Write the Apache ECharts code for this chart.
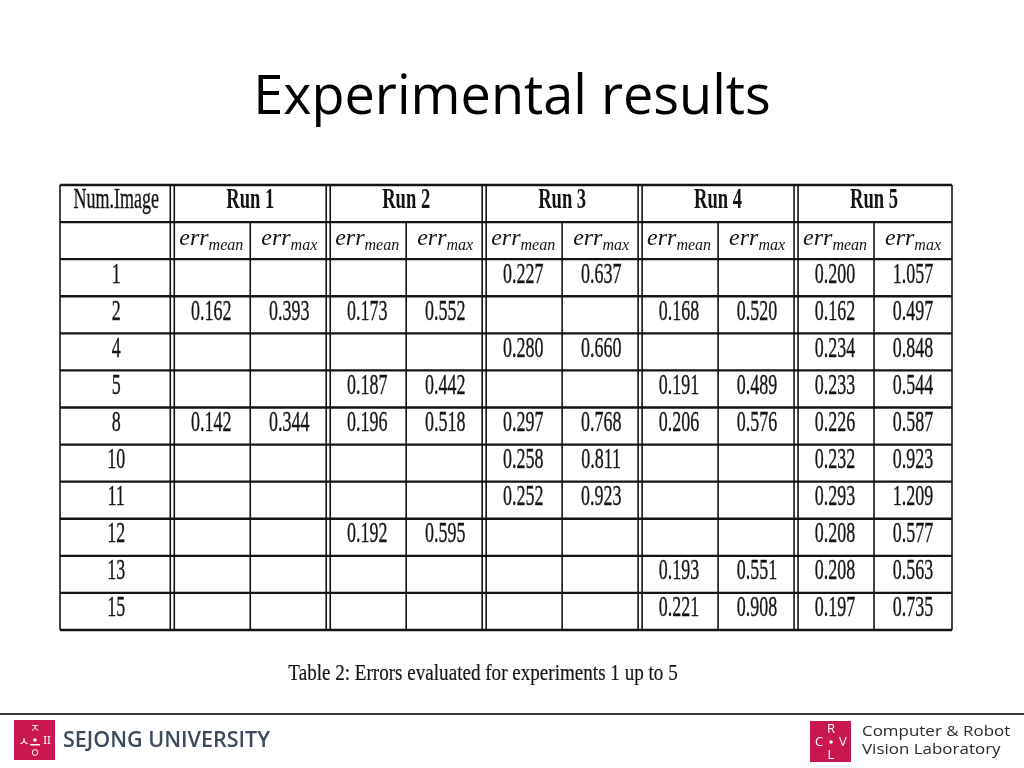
<!DOCTYPE html>
<html><head><meta charset="utf-8">
<script src="https://cdn.jsdelivr.net/npm/echarts@6/dist/echarts.min.js"></script>
<style>html,body{margin:0;padding:0;background:#fff}#c{width:1024px;height:768px}</style>
</head><body><div id="c"></div>
<script>
// ---- data ----
const titleText = 'Experimental results';
const captionText = 'Table 2: Errors evaluated for experiments 1 up to 5';
const firstHeader = 'Num.Image';
const runs = ['Run 1', 'Run 2', 'Run 3', 'Run 4', 'Run 5'];
const subHeaders = ['mean', 'max'];
const numImages = ['1', '2', '4', '5', '8', '10', '11', '12', '13', '15'];
const run1Mean = [null, 0.162, null, null, 0.142, null, null, null, null, null];
const run1Max  = [null, 0.393, null, null, 0.344, null, null, null, null, null];
const run2Mean = [null, 0.173, null, 0.187, 0.196, null, null, 0.192, null, null];
const run2Max  = [null, 0.552, null, 0.442, 0.518, null, null, 0.595, null, null];
const run3Mean = [0.227, null, 0.280, null, 0.297, 0.258, 0.252, null, null, null];
const run3Max  = [0.637, null, 0.660, null, 0.768, 0.811, 0.923, null, null, null];
const run4Mean = [null, 0.168, null, 0.191, 0.206, null, null, null, 0.193, 0.221];
const run4Max  = [null, 0.520, null, 0.489, 0.576, null, null, null, 0.551, 0.908];
const run5Mean = [0.200, 0.162, 0.234, 0.233, 0.226, 0.232, 0.293, 0.208, 0.208, 0.197];
const run5Max  = [1.057, 0.497, 0.848, 0.544, 0.587, 0.923, 1.209, 0.577, 0.563, 0.735];
const runValues = [[run1Mean, run1Max], [run2Mean, run2Max], [run3Mean, run3Max], [run4Mean, run4Max], [run5Mean, run5Max]];

// ---- layout (table units) ----
const NUMW = 1.44;               // width of first column in sub-column units
const NCOLS = runs.length * 2;
const XMAX = NUMW + NCOLS;
const HEAD = 2;
const NROWS = HEAD + numImages.length;
const SERIF = '"Liberation Serif", "DejaVu Serif", serif';
const INK = '#141414';

// cells
const cells = [];
cells.push({x: NUMW / 2, y: 0.5, text: firstHeader, kind: 'head'});
runs.forEach((r, i) => cells.push({x: NUMW + i * 2 + 1, y: 0.5, text: r, kind: 'run'}));
runs.forEach((r, i) => subHeaders.forEach((s, j) =>
  cells.push({x: NUMW + i * 2 + j + 0.5, y: 1.5, text: '{e|err}{s|' + s + '}', kind: 'sub'})));
numImages.forEach((n, r) => {
  cells.push({x: NUMW / 2, y: HEAD + r + 0.5, text: n, kind: 'num'});
  runValues.forEach((pair, i) => pair.forEach((arr, j) => {
    if (arr[r] != null) cells.push({x: NUMW + i * 2 + j + 0.5, y: HEAD + r + 0.5, text: arr[r].toFixed(3), kind: 'num'});
  }));
});

// grid lines: [x1,y1,x2,y2,double]
const rules = [];
for (let r = 0; r <= NROWS; r++) rules.push([0, r, XMAX, r, 0]);
rules.push([0, 0, 0, NROWS, 0]);
rules.push([XMAX, 0, XMAX, NROWS, 0]);
rules.push([NUMW, 0, NUMW, NROWS, 1]);
for (let i = 1; i < runs.length; i++) rules.push([NUMW + i * 2, 0, NUMW + i * 2, NROWS, 1]);
for (let i = 0; i < runs.length; i++) rules.push([NUMW + i * 2 + 1, 1, NUMW + i * 2 + 1, NROWS, 0]);

const chart = echarts.init(document.getElementById('c'));

function styleFor(c) {
  if (c.kind === 'sub') {
    return {sx: 1, dy: -2, st: {text: c.text, align: 'center', verticalAlign: 'middle', fill: INK,
      rich: {
        e: {fontFamily: SERIF, fontStyle: 'italic', fontSize: 24, fill: INK, verticalAlign: 'middle', lineHeight: 30},
        s: {fontFamily: SERIF, fontStyle: 'italic', fontSize: 16, fill: INK, verticalAlign: 'bottom', lineHeight: 30, padding: [8, 0, 0, 0]}
      }}};
  }
  const bold = c.kind === 'run';
  return {sx: bold ? 0.64 : 0.6, dy: -3, st: {text: c.text, align: 'center', verticalAlign: 'middle', fill: INK,
    stroke: INK, lineWidth: bold ? 0 : 0.35,
    fontFamily: SERIF, fontSize: bold ? 29 : 30, fontWeight: bold ? 'bold' : 'normal'}};
}

const option = {
  animation: false,
  title: {text: titleText, left: 'center', top: 67,
    textStyle: {fontFamily: '"Open Sans", "Noto Sans", sans-serif', fontSize: 54, fontWeight: 'normal', color: '#000'}},
  grid: {left: 60, right: 72, top: 185, bottom: 138},
  xAxis: {type: 'value', min: 0, max: XMAX, show: false},
  yAxis: {type: 'value', min: 0, max: NROWS, inverse: true, show: false},
  series: [
    {
      type: 'custom', silent: true, clip: false,
      data: rules,
      encode: {x: [0, 2], y: [1, 3]},
      renderItem: function (params, api) {
        const p1 = api.coord([api.value(0), api.value(1)]);
        const p2 = api.coord([api.value(2), api.value(3)]);
        const dbl = api.value(4) === 1;
        const horiz = api.value(1) === api.value(3);
        const st = {stroke: INK, lineWidth: horiz ? 2.3 : 1.6};
        if (!dbl) return {type: 'line', shape: {x1: p1[0], y1: p1[1], x2: p2[0], y2: p2[1]}, style: st};
        return {type: 'group', children: [
          {type: 'line', shape: {x1: p1[0] - 2, y1: p1[1], x2: p2[0] - 2, y2: p2[1]}, style: st},
          {type: 'line', shape: {x1: p1[0] + 2, y1: p1[1], x2: p2[0] + 2, y2: p2[1]}, style: st}
        ]};
      }
    },
    {
      type: 'custom', silent: true, clip: false,
      data: cells.map(c => [c.x, c.y]),
      encode: {x: 0, y: 1},
      renderItem: function (params, api) {
        const c = cells[params.dataIndex];
        const p = api.coord([api.value(0), api.value(1)]);
        const s = styleFor(c);
        return {type: 'text', x: p[0], y: p[1] + s.dy, scaleX: s.sx, style: s.st};
      }
    }
  ],
  graphic: [
    {type: 'text', x: 483, y: 674, scaleX: 0.83,
      style: {text: captionText, fontFamily: SERIF, fontSize: 23, fill: INK, stroke: INK, lineWidth: 0.2, align: 'center', verticalAlign: 'middle'}},
    {type: 'line', shape: {x1: 0, y1: 714, x2: 1024, y2: 714}, style: {stroke: '#3a3a3a', lineWidth: 2}},
    // Sejong logo
    {type: 'rect', shape: {x: 14, y: 720, width: 41, height: 40}, style: {fill: '#c9174f'}},
    {type: 'text', x: 35, y: 728, style: {text: 'ㅈ', fontFamily: '"Noto Sans CJK KR"', fontSize: 11, fill: '#fff', align: 'center', verticalAlign: 'middle'}},
    {type: 'text', x: 24, y: 741, style: {text: 'ㅅ', fontFamily: '"Noto Sans CJK KR"', fontSize: 12, fill: '#fff', align: 'center', verticalAlign: 'middle'}},
    {type: 'circle', shape: {cx: 35, cy: 740, r: 1.8}, style: {fill: '#fff'}},
    {type: 'rect', shape: {x: 30, y: 744, width: 10, height: 1.5}, style: {fill: '#fff'}},
    {type: 'text', x: 35, y: 753, style: {text: 'ㅇ', fontFamily: '"Noto Sans CJK KR"', fontSize: 11, fill: '#fff', align: 'center', verticalAlign: 'middle'}},
    {type: 'text', x: 47, y: 741, style: {text: 'II', fontFamily: '"Noto Sans"', fontSize: 11, fill: '#fff', align: 'center', verticalAlign: 'middle'}},
    {type: 'text', x: 63, y: 741, style: {text: 'SEJONG UNIVERSITY', fontFamily: '"Open Sans", sans-serif', fontWeight: 600, fontSize: 21.5, fill: '#3d4a5c', verticalAlign: 'middle'}},
    // CRVL logo
    {type: 'rect', shape: {x: 810, y: 721, width: 41, height: 41}, style: {fill: '#c9174f'}},
    {type: 'text', x: 831, y: 729, style: {text: 'R', fontFamily: '"Open Sans"', fontSize: 13, fill: '#fff', align: 'center', verticalAlign: 'middle'}},
    {type: 'text', x: 819, y: 742, style: {text: 'C', fontFamily: '"Open Sans"', fontSize: 13, fill: '#fff', align: 'center', verticalAlign: 'middle'}},
    {type: 'text', x: 843, y: 742, style: {text: 'V', fontFamily: '"Open Sans"', fontSize: 13, fill: '#fff', align: 'center', verticalAlign: 'middle'}},
    {type: 'text', x: 831, y: 755, style: {text: 'L', fontFamily: '"Open Sans"', fontSize: 13, fill: '#fff', align: 'center', verticalAlign: 'middle'}},
    {type: 'circle', shape: {cx: 831, cy: 742, r: 1.8}, style: {fill: '#fff'}},
    {type: 'text', x: 862, y: 732, scaleX: 1.13, style: {text: 'Computer & Robot', fontFamily: '"Open Sans"', fontSize: 15, fill: '#2a2a2a', verticalAlign: 'middle'}},
    {type: 'text', x: 862, y: 750, scaleX: 1.13, style: {text: 'Vision Laboratory', fontFamily: '"Open Sans"', fontSize: 15, fill: '#2a2a2a', verticalAlign: 'middle'}}
  ]
};
chart.setOption(option);
</script>
</body></html>
